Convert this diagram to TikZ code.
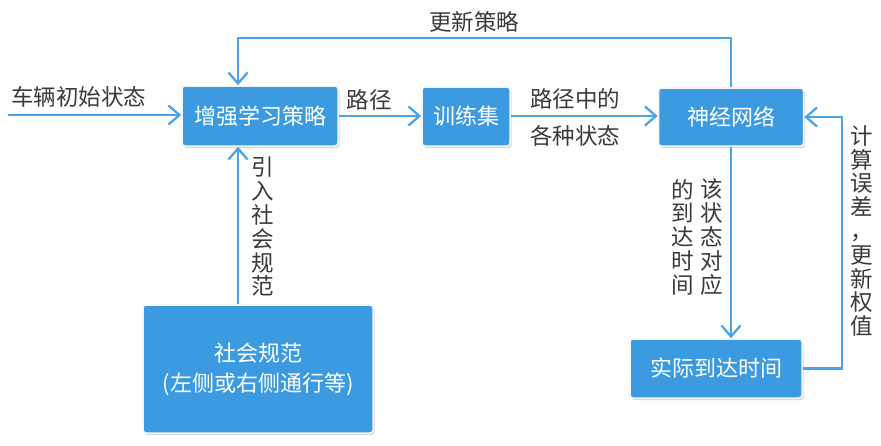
\documentclass[tikz,border=0pt]{standalone}
\usepackage{fontspec}
\setmainfont{Noto Sans CJK SC}
\usetikzlibrary{arrows.meta,shadows}
\definecolor{boxblue}{HTML}{3C9BE0}
\definecolor{lineblue}{HTML}{4AA5E8}
\definecolor{txt}{HTML}{3A3A3A}
\begin{document}
\begin{tikzpicture}[x=1pt,y=-1pt,
  box/.style={rectangle, rounded corners=3pt, fill=boxblue, draw=white!92!gray,
    line width=1.5pt, text=white, inner sep=0pt,
    font=\fontsize{22}{30}\selectfont, align=center,
    drop shadow={opacity=0.3, shadow xshift=1.5pt, shadow yshift=-2pt}},
  lbl/.style={text=txt, inner sep=0pt, font=\fontsize{22.5}{23.8}\selectfont, align=center},
  arr/.style={draw=lineblue, line width=2.3pt, -{Straight Barb[length=11pt,width=19pt,line width=2.3pt]}},
  ln/.style={draw=lineblue, line width=2.3pt}]
\useasboundingbox (0,0) rectangle (881,445);
% boxes
\node[box, minimum width=156pt, minimum height=60pt] (A) at (260,116) {增强学习策略};
\node[box, minimum width=88pt, minimum height=59pt] (B) at (466,116.5) {训练集};
\node[box, minimum width=145pt, minimum height=58pt] (C) at (731,117) {神经网络};
\node[box, minimum width=230pt, minimum height=128pt] (D) at (258,369) {社会规范\\(左侧或右侧通行等)};
\node[box, minimum width=172pt, minimum height=59pt] (E) at (716,368.5) {实际到达时间};
% labels
\node[lbl] (l0) at (79,97) {车辆初始状态};
\node[lbl] (l1) at (369,100) {路径};
\node[lbl] (l2) at (575,99) {路径中的};
\node[lbl] (l3) at (575,136) {各种状态};
\node[lbl] (l4) at (474,22) {更新策略};
\node[lbl] (l5) at (263,227) {引\\入\\社\\会\\规\\范};
\node[lbl] (l6) at (712,237) {该\\状\\态\\对\\应};
\node[lbl] (l7) at (683,237) {的\\到\\达\\时\\间};
\node[lbl] (l8) at (862,231) {计\\算\\误\\差\\，\\更\\新\\权\\值};
% connectors
\coordinate (s) at (8,115);
\coordinate (t1) at (238,38);
\coordinate (r) at (842,0);
\draw[arr] (s) -- (s -| A.west);
\draw[arr] (A.east |- 0,116) -- (B.west |- 0,116);
\draw[arr] (B.east |- 0,116) -- (C.west |- 0,116);
\draw[arr] (C.north) |- (t1) -- (t1 |- A.north);
\draw[arr] (t1 |- D.north) -- (t1 |- A.south);
\draw[arr] (C.south) -- (C.south |- E.north);
\draw[arr] (E.east) -| (r |- C.east) -- (C.east);
\end{tikzpicture}
\end{document}
